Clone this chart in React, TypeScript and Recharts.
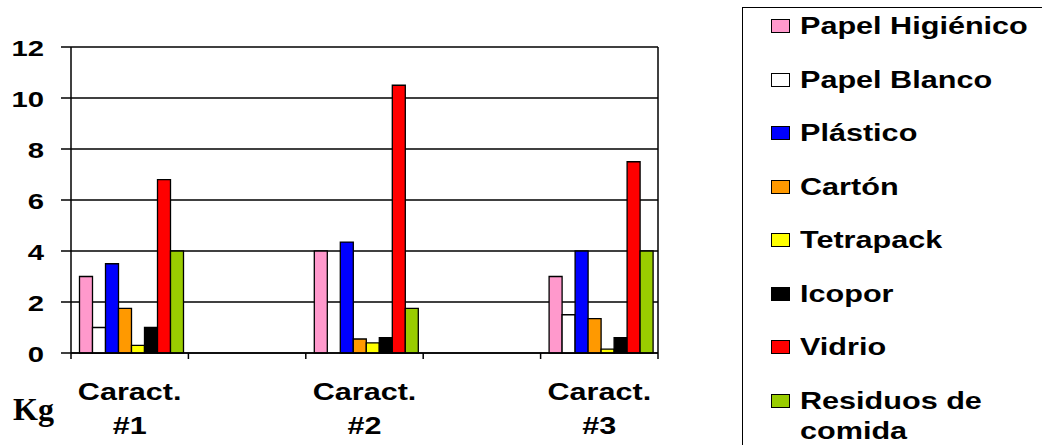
import { Bar, BarChart, CartesianGrid, XAxis, YAxis } from 'recharts'

// kg per characterization run (three runs)
const papelHigienico = [3, 4, 3]
const papelBlanco = [1, 0, 1.5]
const plastico = [3.5, 4.35, 4]
const carton = [1.75, 0.55, 1.35]
const tetrapack = [0.3, 0.4, 0.15]
const icopor = [1, 0.6, 0.6]
const vidrio = [6.8, 10.5, 7.5]
const residuosComida = [4, 1.75, 4]

// empty slots keep a blank band between runs
const categories = ['Caract. #1', '', 'Caract. #2', '', 'Caract. #3']
const yTicks = [0, 2, 4, 6, 8, 10, 12]

const materials = [
  { key: 'papelHigienico', name: 'Papel Higiénico', color: '#FF99CC', values: papelHigienico },
  { key: 'papelBlanco', name: 'Papel Blanco', color: '#FFFFFF', values: papelBlanco },
  { key: 'plastico', name: 'Plástico', color: '#0000FF', values: plastico },
  { key: 'carton', name: 'Cartón', color: '#FF9900', values: carton },
  { key: 'tetrapack', name: 'Tetrapack', color: '#FFFF00', values: tetrapack },
  { key: 'icopor', name: 'Icopor', color: '#000000', values: icopor },
  { key: 'vidrio', name: 'Vidrio', color: '#FF0000', values: vidrio },
  { key: 'residuosComida', name: 'Residuos de comida', color: '#99CC00', values: residuosComida },
]

let run = 0
const data = categories.map((label, i) => {
  const row: Record<string, string | number> = { key: `c${i}` }
  if (label) {
    materials.forEach((m) => {
      row[m.key] = m.values[run]
    })
    run += 1
  }
  return row
})

const W = 1042
const H = 445
const PLOT_LEFT = 71
const PLOT_RIGHT = 658
const PLOT_TOP = 47
const PLOT_BOTTOM = 353
const X_AXIS_H = 60
const HALF_BAND = (PLOT_RIGHT - PLOT_LEFT) / categories.length / 2

const SANS = '"Liberation Sans", Arial, sans-serif'
const STRETCH = 1.33
const LINE = 1.5

function YTick({ x, y, payload }: any) {
  return (
    <g transform={`translate(${x},${y})`}>
      <text textAnchor="end" dy={1} dominantBaseline="central" transform={`scale(${STRETCH},1)`}
        fontFamily={SANS} fontWeight={700} fontSize={22} fill="#000">
        {payload.value}
      </text>
    </g>
  )
}

function XTick({ x, y, payload }: any) {
  const half = payload.offset || HALF_BAND
  const label = categories[payload.index] || ''
  const [first, second] = label.split(' ')
  const last = payload.index === categories.length - 1
  return (
    <g>
      <line x1={x - half} x2={x - half} y1={y} y2={y + 6} stroke="#000" strokeWidth={LINE} />
      {last && <line x1={x + half} x2={x + half} y1={y} y2={y + 6} stroke="#000" strokeWidth={LINE} />}
      {label && (
        <g transform={`translate(${x},${y})`}>
          <text textAnchor="middle" transform={`scale(${STRETCH},1)`} fontFamily={SANS} fontWeight={700} fontSize={23} fill="#000">
            <tspan x={0} y={47}>{first}</tspan>
            <tspan x={0} y={81}>{second}</tspan>
          </text>
        </g>
      )}
    </g>
  )
}

function LegendBox() {
  return (
    <div style={{ position: 'absolute', left: 742, top: 7, width: 400, height: 500, border: '1.5px solid #000', boxSizing: 'border-box' }}>
      {materials.map((m, i) => (
        <div key={m.key} style={{ position: 'absolute', top: 26.7 + 53.5 * i - 15 - 8.5, left: 0, height: 60 }}>
          <div style={{ position: 'absolute', left: 28, top: 8, width: 19, height: 14, background: m.color, border: '1.5px solid #000', boxSizing: 'border-box' }} />
          <div style={{ position: 'absolute', left: 57, top: 0, width: 180, transform: `scaleX(${STRETCH})`, transformOrigin: 'left top',
            fontFamily: SANS, fontWeight: 700, fontSize: 23, lineHeight: '30px', color: '#000' }}>
            {m.name}
          </div>
        </div>
      ))}
    </div>
  )
}

export default function App() {
  return (
    <div style={{ position: 'absolute', left: 0, top: 0, width: W, height: H, overflow: 'hidden', background: '#fff' }}>
      <BarChart width={W} height={H} data={data} barGap={0} barCategoryGap={8.5}
        margin={{ top: PLOT_TOP, right: W - PLOT_RIGHT - 1, left: 0, bottom: H - PLOT_BOTTOM - X_AXIS_H }}>
        <CartesianGrid vertical={false} stroke="#000" strokeWidth={LINE} />
        <XAxis dataKey="key" interval={0} height={X_AXIS_H} tickLine={false} tickSize={0} tickMargin={0}
          axisLine={{ stroke: '#000', strokeWidth: LINE }} tick={<XTick />} />
        <YAxis domain={[0, 12]} ticks={yTicks} interval={0} width={PLOT_LEFT} tickSize={10} tickMargin={17}
          axisLine={{ stroke: '#000', strokeWidth: LINE }} tickLine={{ stroke: '#000', strokeWidth: LINE }} tick={<YTick />} />
        <YAxis yAxisId="frame" orientation="right" domain={[0, 12]} width={1} tick={false} tickLine={false}
          axisLine={{ stroke: '#000', strokeWidth: LINE }} />
        {materials.map((m) => (
          <Bar key={m.key} dataKey={m.key} name={m.name} fill={m.color} stroke="#000" strokeWidth={1.3} isAnimationActive={false} />
        ))}
      </BarChart>
      <svg style={{ position: 'absolute', left: 0, top: 0 }} width={70} height={H}>
        <text x={13} y={420} fontFamily='"Liberation Serif", "Times New Roman", serif' fontWeight={700} fontSize={32} fill="#000">Kg</text>
      </svg>
      <LegendBox />
    </div>
  )
}
